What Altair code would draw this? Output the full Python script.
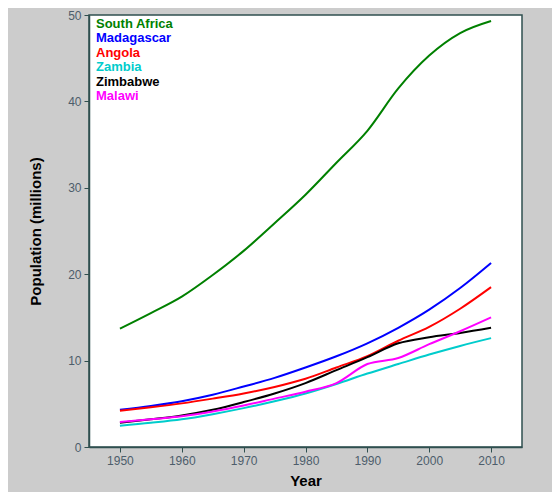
import altair as alt
import pandas as pd

years = [1950, 1955, 1960, 1965, 1970, 1975, 1980, 1985, 1990, 1995, 2000, 2005, 2010]
countries = ["South Africa", "Madagascar", "Angola", "Zambia", "Zimbabwe", "Malawi"]
colors = ["#008000", "#0000ff", "#ff0000", "#00cccc", "#000000", "#ff00ff"]

south_africa = [13.7, 15.5, 17.4, 19.9, 22.7, 25.9, 29.2, 32.9, 36.6, 41.5, 45.3, 47.9, 49.3]
madagascar = [4.3, 4.75, 5.3, 6.05, 7.0, 8.0, 9.2, 10.5, 12.0, 13.8, 15.9, 18.4, 21.3]
angola = [4.2, 4.6, 5.05, 5.6, 6.2, 6.95, 7.9, 9.2, 10.5, 12.3, 13.9, 16.0, 18.5]
zambia = [2.47, 2.8, 3.2, 3.8, 4.5, 5.3, 6.2, 7.3, 8.5, 9.6, 10.7, 11.7, 12.6]
zimbabwe = [2.8, 3.2, 3.65, 4.3, 5.2, 6.2, 7.4, 8.9, 10.4, 12.0, 12.7, 13.2, 13.8]
malawi = [2.9, 3.2, 3.55, 4.1, 4.8, 5.6, 6.4, 7.4, 9.6, 10.3, 11.9, 13.4, 15.0]

series = [south_africa, madagascar, angola, zambia, zimbabwe, malawi]
x_ticks = [1950, 1960, 1970, 1980, 1990, 2000, 2010]
y_ticks = [0, 10, 20, 30, 40, 50]

rows = []
for c, vals in zip(countries, series):
    for yr, v in zip(years, vals):
        rows.append({"country": c, "year": yr, "pop": v})
df = pd.DataFrame(rows)
leg = pd.DataFrame({"country": countries, "order": list(range(len(countries)))})

color_scale = alt.Scale(domain=countries, range=colors)
font = "Arial, Liberation Sans, sans-serif"

lines = alt.Chart(df).mark_line(interpolate="monotone", strokeWidth=2).encode(
    x=alt.X("year:Q", title="Year",
            scale=alt.Scale(domain=[1945, 2015], nice=False, zero=False),
            axis=alt.Axis(values=x_ticks, format="d", grid=False)),
    y=alt.Y("pop:Q", title="Population (millions)",
            scale=alt.Scale(domain=[0, 50], nice=False),
            axis=alt.Axis(values=y_ticks, grid=False)),
    color=alt.Color("country:N", scale=color_scale, legend=None),
    detail="country:N",
)

legend = alt.Chart(leg).mark_text(align="left", baseline="middle", fontSize=13,
                                  fontWeight="bold", font=font).encode(
    x=alt.value(7),
    y=alt.Y("order:O", scale=alt.Scale(range=[9, 81], padding=0), axis=None),
    text="country:N",
    color=alt.Color("country:N", scale=color_scale, legend=None),
)

chart = alt.layer(lines, legend).resolve_scale(y="independent").properties(
    width=433, height=432,
    background="#cccccc",
    padding={"left": 81, "top": 7, "right": 30, "bottom": 45},
    autosize=alt.AutoSizeParams(type="none"),
).configure_view(
    fill="#ffffff", stroke="#2f4f4f", strokeWidth=1.5
).configure_axis(
    domainColor="#2f4f4f", tickColor="#2f4f4f", domainWidth=1.5,
    labelColor="#4d5d6b", labelFont=font, labelFontSize=12,
    titleFont=font, titleFontSize=15, titleFontWeight="bold", titleColor="#000000",
    tickSize=5,
).configure_axisX(
    labelPadding=3, titlePadding=7
).configure_axisY(
    labelPadding=3, titlePadding=24
)

chart.save("out.html", embed_options={"renderer": "svg", "actions": False})
